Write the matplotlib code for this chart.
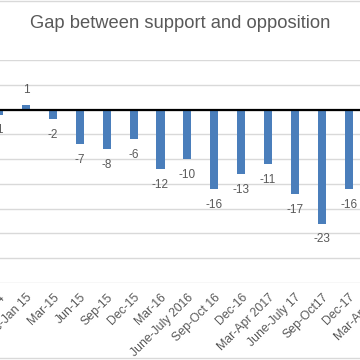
import numpy as np
import matplotlib.pyplot as plt
from matplotlib.lines import Line2D

# data (first and last categories are cut off in the picture)
labels = ['Oct-14', 'Dec-Jan 15', 'Mar-15', 'Jun-15', 'Sep-15', 'Dec-15', 'Mar-16',
          'June-July 2016', 'Sep-Oct 16', 'Dec-16', 'Mar-Apr 2017', 'June-July 17',
          'Sep-Oct17', 'Dec-17', 'Mar-Apr 18']
gap = [-1, 1, -2, -7, -8, -6, -12, -10, -16, -13, -11, -17, -23, -16, np.nan]

plt.rcParams['font.family'] = ['Liberation Sans', 'DejaVu Sans']
grey = '#595959'
blue = '#4A7EBB'

fig = plt.figure(figsize=(3.6, 3.6), dpi=100)
# axes deliberately wider than the figure: the reference is a crop of a larger chart
ax = fig.add_axes([-14.35 / 360, 77 / 360, 403.5 / 360, 223 / 360])

x = np.arange(len(labels))
ax.bar(x, gap, width=0.3, color=blue, zorder=3)
ax.axhline(0, color='black', lw=1.6, zorder=4)

for xi, v in zip(x, gap):
	if np.isnan(v):
		continue
	off = 6 if v > 0 else -7
	ax.annotate(f'{v:g}', (xi, v), xytext=(0, off), textcoords='offset points',
		ha='center', va='bottom' if v > 0 else 'top', fontsize=8.5, color=grey)

ax.set_xlim(-0.5, len(labels) - 0.5)
ax.set_ylim(-35, 10)
ax.set_yticks(np.arange(-35, 11, 5))
ax.set_yticklabels([])
ax.yaxis.grid(True, color='#D9D9D9', lw=1)
ax.set_axisbelow(True)
ax.tick_params(axis='both', length=0)
ax.set_xticks(x)
ax.set_xticklabels(labels, rotation=45, ha='right', rotation_mode='anchor',
	fontsize=8.8, color=grey)
ax.tick_params(axis='x', pad=6)
for s in ax.spines.values():
	s.set_visible(False)

fig.text(0.5, 1 - 24 / 360, 'Gap between support and opposition',
	ha='center', va='center', fontsize=13.2, color=grey)

# chart border lines visible at top and bottom of the crop
fig.add_artist(Line2D([0, 1], [1 - 1 / 360, 1 - 1 / 360], color='#D9D9D9', lw=1))
fig.add_artist(Line2D([0, 1], [2 / 360, 2 / 360], color='#D9D9D9', lw=1))

fig.savefig('out.png', dpi=100)
